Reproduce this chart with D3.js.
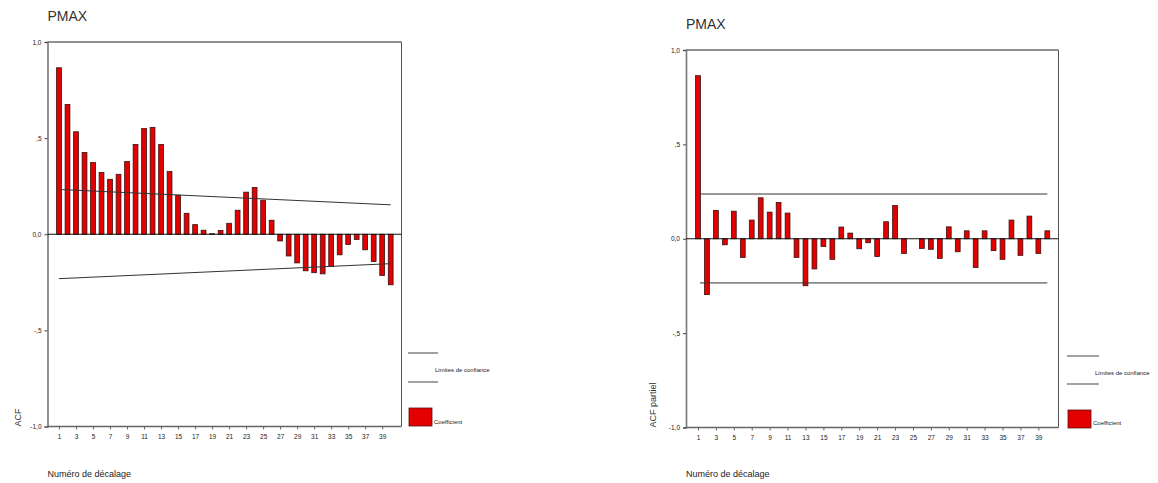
<!DOCTYPE html>
<html>
<head>
<meta charset="utf-8">
<script src="https://cdn.jsdelivr.net/npm/d3@7"></script>
<style>
  html, body { margin: 0; padding: 0; background: #fff; }
  svg { display: block; font-family: Arial, "Liberation Sans", sans-serif; }
</style>
</head>
<body>
<svg id="chart" width="1158" height="483"></svg>
<script>
// Lags 1..40
const lags = d3.range(1, 41);
const lagTickLabels = ["1","3","5","7","9","11","13","15","17","19","21","23","25","27","29","31","33","35","37","39"];
const yTickValues = [1, 0.5, 0, -0.5, -1];
const yTickLabels = ["1,0", ",5", "0,0", "-,5", "-1,0"];

// Autocorrelation coefficients (ACF) of PMAX
const acfValues = [
  0.866, 0.675, 0.533, 0.425, 0.373, 0.321, 0.286, 0.312, 0.378, 0.467,
  0.550, 0.556, 0.467, 0.326, 0.203, 0.109, 0.050, 0.021, 0.003, 0.020,
  0.057, 0.125, 0.219, 0.243, 0.177, 0.073, -0.035, -0.113, -0.149, -0.190,
  -0.200, -0.206, -0.168, -0.107, -0.053, -0.027, -0.081, -0.142, -0.215, -0.263
];
// ACF confidence limits at lag 1 and lag 40
const acfUpperLimit = [0.233, 0.153];
const acfLowerLimit = [-0.231, -0.153];

// Partial autocorrelation coefficients of PMAX
const pacfValues = [
  0.864, -0.296, 0.150, -0.032, 0.146, -0.099, 0.099, 0.217, 0.141, 0.192,
  0.136, -0.099, -0.249, -0.160, -0.041, -0.109, 0.062, 0.030, -0.053, -0.021,
  -0.094, 0.090, 0.176, -0.078, 0.000, -0.051, -0.056, -0.104, 0.063, -0.069,
  0.042, -0.152, 0.042, -0.063, -0.109, 0.099, -0.088, 0.120, -0.078, 0.042
];
// PACF confidence limits at lag 1 and lag 40
const pacfUpperLimit = [0.237, 0.237];
const pacfLowerLimit = [-0.234, -0.234];

const titleText = "PMAX";
const xTitleText = "Numéro de décalage";
const legendLimitText = "Limites de confiance";
const legendCoefText = "Coefficient";

const svg = d3.select("#chart");
const barFill = "#e30000";
const barStroke = "#3a1010";
const frameColor = "#555";

function drawPanel(p) {
  const g = svg.append("g");
  const x = d3.scaleLinear().domain([1, 40]).range([p.firstLagX, p.lastLagX]);
  const y = d3.scaleLinear().domain([-1, 1]).range([p.bottom, p.top]);

  // Title
  g.append("text")
    .attr("x", p.left).attr("y", p.titleY)
    .attr("font-size", 14).attr("fill", "#333")
    .text(titleText);

  // Frame: top and right edges
  g.append("line").attr("x1", p.left).attr("x2", p.right)
    .attr("y1", p.top).attr("y2", p.top)
    .attr("stroke", "#222").attr("stroke-width", 1);
  g.append("line").attr("x1", p.right).attr("x2", p.right)
    .attr("y1", p.top).attr("y2", p.bottom)
    .attr("stroke", frameColor).attr("stroke-width", 1);

  // Y axis
  const yAxis = d3.axisLeft(y)
    .tickValues(yTickValues)
    .tickFormat((d, i) => yTickLabels[i])
    .tickSize(3).tickPadding(3);
  const yg = g.append("g").attr("transform", `translate(${p.left},0)`).call(yAxis);
  yg.select(".domain").attr("stroke", "#777").attr("stroke-width", 1.6);
  yg.selectAll(".tick line").attr("stroke", "#444");
  yg.selectAll(".tick text").attr("font-size", 6.5).attr("fill", "#222")
    .attr("font-family", "Arial, 'Liberation Sans', sans-serif");

  // X axis
  const xAxis = d3.axisBottom(x)
    .tickValues(lags.filter(d => d % 2 === 1))
    .tickFormat((d, i) => lagTickLabels[i])
    .tickSize(3).tickPadding(5).tickSizeOuter(0);
  const xg = g.append("g").attr("transform", `translate(0,${p.bottom})`).call(xAxis);
  xg.select(".domain").attr("d", `M${p.left},0H${p.right}`)
    .attr("stroke", "#666").attr("stroke-width", 1.4);
  xg.selectAll(".tick line").attr("stroke", "#666");
  xg.selectAll(".tick text").attr("font-size", 6.5).attr("fill", "#222")
    .attr("font-family", "Arial, 'Liberation Sans', sans-serif");

  // Axis titles
  g.append("text")
    .attr("x", p.left).attr("y", p.xTitleY)
    .attr("font-size", 9).attr("fill", "#222")
    .text(xTitleText);
  g.append("text")
    .attr("transform", `translate(${p.yTitleX},${p.bottom}) rotate(-90)`)
    .attr("font-size", 9).attr("fill", "#333")
    .text(p.yTitle);

  // Bars
  const bw = 4.8;
  g.selectAll("rect.bar").data(p.values).enter().append("rect")
    .attr("class", "bar")
    .attr("x", (d, i) => x(lags[i]) - bw / 2)
    .attr("width", bw)
    .attr("y", d => Math.min(y(d), y(0)))
    .attr("height", d => Math.abs(y(d) - y(0)))
    .attr("fill", barFill)
    .attr("stroke", barStroke)
    .attr("stroke-width", 0.8);

  // Zero line
  g.append("line").attr("x1", p.left).attr("x2", p.right)
    .attr("y1", y(0)).attr("y2", y(0))
    .attr("stroke", "#111").attr("stroke-width", 1);

  // Confidence limits
  [p.upper, p.lower].forEach(lim => {
    g.append("line")
      .attr("x1", x(1) + p.limitStartOffset).attr("x2", x(40))
      .attr("y1", y(lim[0])).attr("y2", y(lim[1]))
      .attr("stroke", "#333").attr("stroke-width", 1);
  });

  // Legend
  const L = p.legend;
  [L.line1Y, L.line2Y].forEach(ly => {
    g.append("line").attr("x1", L.x).attr("x2", L.x + L.lineW)
      .attr("y1", ly).attr("y2", ly)
      .attr("stroke", "#444").attr("stroke-width", 1);
  });
  g.append("text").attr("x", L.textX).attr("y", L.limitTextY)
    .attr("font-size", 6).attr("fill", "#222").text(legendLimitText);
  g.append("rect").attr("x", L.x + 1).attr("y", L.boxY)
    .attr("width", 23).attr("height", 18)
    .attr("fill", barFill).attr("stroke", "#5a1010").attr("stroke-width", 0.8);
  g.append("text").attr("x", L.x + 26).attr("y", L.coefTextY)
    .attr("font-size", 6).attr("fill", "#222").text(legendCoefText);
}

drawPanel({
  left: 47.5, right: 401.5, top: 42, bottom: 426.5,
  firstLagX: 59, lastLagX: 390.7,
  titleY: 21, xTitleY: 477, yTitleX: 20.5, yTitle: "ACF",
  values: acfValues, upper: acfUpperLimit, lower: acfLowerLimit,
  limitStartOffset: 0,
  legend: { x: 408, lineW: 30, line1Y: 353, line2Y: 382, textX: 435, limitTextY: 372, boxY: 408, coefTextY: 424 }
});

drawPanel({
  left: 686, right: 1058.5, top: 50, bottom: 427.5,
  firstLagX: 698, lastLagX: 1047.3,
  titleY: 29, xTitleY: 477, yTitleX: 655.5, yTitle: "ACF  partiel",
  values: pacfValues, upper: pacfUpperLimit, lower: pacfLowerLimit,
  limitStartOffset: 2,
  legend: { x: 1067, lineW: 32, line1Y: 356, line2Y: 384, textX: 1095, limitTextY: 375, boxY: 410, coefTextY: 425 }
});
</script>
</body>
</html>
